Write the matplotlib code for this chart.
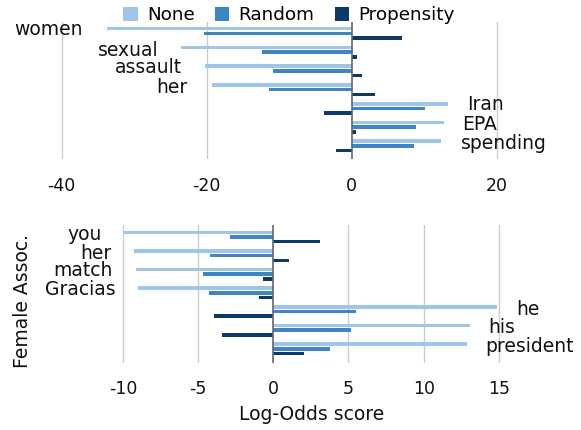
import matplotlib
matplotlib.use("Agg")
import matplotlib.pyplot as plt
from matplotlib.patches import Patch
import numpy as np

plt.rcParams['font.family'] = ['DejaVu Sans']
plt.rcParams['axes.unicode_minus'] = False

series = ["None", "Random", "Propensity"]
colors = ["#9fc5e8", "#3d85c6", "#0b3a68"]

top_words = ["women", "sexual", "assault", "her", "Iran", "EPA", "spending"]
top_none = [-33.8, -23.5, -20.2, -19.3, 13.3, 12.7, 12.3]
top_random = [-20.4, -12.4, -10.8, -11.4, 10.1, 8.9, 8.6]
top_prop = [7.0, 0.7, 1.4, 3.2, -3.8, 0.6, -2.2]

bot_words = ["you", "her", "match", "Gracias", "he", "his", "president"]
bot_none = [-9.9, -9.25, -9.15, -9.0, 14.9, 13.05, 12.9]
bot_random = [-2.9, -4.2, -4.7, -4.3, 5.5, 5.2, 3.75]
bot_prop = [3.1, 1.07, -0.65, -0.95, -3.95, -3.4, 2.05]

top_ticks = [-40, -20, 0, 20]
bot_ticks = [-10, -5, 0, 5, 10, 15]

# label placement (data coords): x, y, horizontal alignment
top_label_pos = [(-37.1, -0.18, 'right'), (-26.7, 0.89, 'right'), (-23.4, 1.81, 'right'),
                 (-22.7, 2.87, 'right'), (15.9, 3.81, 'left'), (15.3, 4.88, 'left'),
                 (15.1, 5.89, 'left')]
bot_label_pos = [(-11.37, -0.11, 'right'), (-10.73, 0.87, 'right'), (-10.66, 1.80, 'right'),
                 (-10.46, 2.84, 'right'), (16.13, 3.87, 'left'), (14.29, 4.86, 'left'),
                 (14.1, 5.88, 'left')]

W, H = 581, 430
fig = plt.figure(figsize=(W / 100, H / 100), dpi=100)

LABEL_FS = 13.5

def make_panel(rect, words, vals, xlim, ylim, ticks, labelpos, pad):
    ax = fig.add_axes(rect)
    y = np.arange(len(words))
    offs = [-0.25, 0.0, 0.25]
    for v, off, c in zip(vals, offs, colors):
        ax.barh(y + off, v, height=0.19, color=c, zorder=3)
    ax.set_xlim(*xlim)
    ax.set_ylim(*ylim)
    ax.set_xticks(ticks)
    ax.set_xticklabels([str(t) for t in ticks], fontsize=12.5, color='#111111')
    ax.tick_params(axis='x', length=0, pad=pad)
    ax.set_yticks([])
    for s in ax.spines.values():
        s.set_visible(False)
    for t in ticks:
        if t == 0:
            ax.axvline(0, color='#666666', lw=1.2, zorder=4)
        else:
            ax.axvline(t, color='#cccccc', lw=1.0, zorder=1)
    for w, (lx, ly, ha) in zip(words, labelpos):
        ax.text(lx, ly, w, ha=ha, va='center', fontsize=LABEL_FS, color='#111111')
    return ax

ax1 = make_panel([10 / W, 1 - 159.3 / H, 565 / W, (159.3 - 21.7) / H], top_words,
                 [top_none, top_random, top_prop], (-47.13, 30.8), (6.71, -0.62),
                 top_ticks, top_label_pos, 13)
ax2 = make_panel([10 / W, 1 - 363.3 / H, 565 / W, (363.3 - 225) / H], bot_words,
                 [bot_none, bot_random, bot_prop], (-17.5, 20.06), (6.77, -0.64),
                 bot_ticks, bot_label_pos, 12)
ax2.set_xlabel("Log-Odds score", fontsize=LABEL_FS, color='#111111')
ax2.xaxis.set_label_coords((312 - 10) / 565, -(414 - 363.3) / (363.3 - 225), transform=ax2.transAxes)
ax2.xaxis.label.set_va('center')
fig.text(23 / W, 1 - 301 / H, "Female Assoc.", rotation=90, ha='center', va='center',
         fontsize=LABEL_FS, color='#111111')

handles = [Patch(facecolor=c, edgecolor='none') for c in colors]
fig.legend(handles, series, loc='center', bbox_to_anchor=(289 / W, 1 - 15 / H), ncol=3,
           frameon=False, fontsize=13.2, handlelength=0.8, handleheight=0.8,
           handletextpad=0.5, columnspacing=1.1, borderaxespad=0, borderpad=0)

fig.savefig("out.png", dpi=100)
